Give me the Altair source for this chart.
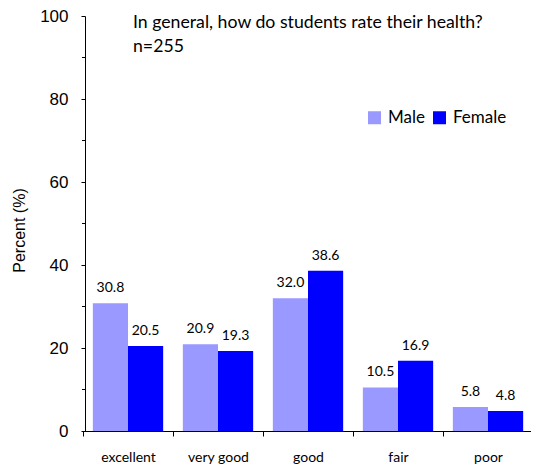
import altair as alt
import pandas as pd

categories = ["excellent", "very good", "good", "fair", "poor"]
male = [30.8, 20.9, 32.0, 10.5, 5.8]
female = [20.5, 19.3, 38.6, 16.9, 4.8]
series = ["Male", "Female"]
colors = ["#9999FF", "#0000FF"]
title_lines = ["In general, how do students rate their health?", "n=255"]
minor_ticks = [10, 30, 50, 70, 90]

rows = []
for i, c in enumerate(categories):
    rows.append({"cat": c, "sex": "Male", "pct": male[i], "lab": f"{male[i]:.1f}"})
    rows.append({"cat": c, "sex": "Female", "pct": female[i], "lab": f"{female[i]:.1f}"})
df = pd.DataFrame(rows)

FONT = "Lato"
AX_FONT = "Liberation Sans"
W, H = 446, 415

x = alt.X("cat:N", sort=categories, title=None,
          scale=alt.Scale(paddingInner=0, paddingOuter=0, range=[-2, W + 2]),
          axis=alt.Axis(tickBand="extent", labelAngle=0, labelFontSize=14,
                        labelPadding=14, tickSize=5, domainColor="#000",
                        tickColor="#000", labelColor="#000", labelFont=FONT))
xo = alt.XOffset("sex:N", sort=series,
                 scale=alt.Scale(paddingInner=0, paddingOuter=0.28))
y = alt.Y("pct:Q", title="Percent (%)",
          scale=alt.Scale(domain=[0, 100], nice=False),
          axis=alt.Axis(values=[0, 20, 40, 60, 80, 100], grid=False,
                        labelFontSize=17, labelPadding=13, tickSize=4,
                        titleFontSize=16, titleFontWeight="normal",
                        titlePadding=12, titleY=214, domainColor="#000",
                        tickColor="#000", labelColor="#000", titleColor="#000",
                        labelFont=AX_FONT, titleFont=AX_FONT))

color = alt.Color("sex:N", sort=series,
                  scale=alt.Scale(domain=series, range=colors),
                  legend=alt.Legend(title=None, orient="none", direction="horizontal",
                                    legendX=281, legendY=93, symbolType="square",
                                    symbolSize=169, symbolStrokeWidth=0,
                                    labelFontSize=17, labelFont=FONT,
                                    labelColor="#000", columnPadding=6,
                                    labelOffset=5, padding=0))

base = alt.Chart(df)
bars = base.mark_bar(opacity=1).encode(x=x, xOffset=xo, y=y, color=color)
labels = base.mark_text(dy=-8, fontSize=14, font=FONT, color="#000",
                        baseline="bottom").encode(
    x=alt.X("cat:N", sort=categories), xOffset=alt.XOffset("sex:N", sort=series),
    y="pct:Q", text="lab:N")

minor = alt.Chart(pd.DataFrame({"v": minor_ticks})).mark_rule(
    color="#000", strokeWidth=1).encode(
    y=alt.Y("v:Q"), x=alt.value(-3), x2=alt.value(0))

title = alt.Chart(pd.DataFrame({"a": [0]})).mark_text(
    text=title_lines, align="left", baseline="alphabetic", fontSize=17.7,
    font=FONT, color="#000", lineHeight=24).encode(
    x=alt.value(48), y=alt.value(12))

chart = alt.layer(bars, labels, minor, title).properties(
    width=W, height=H,
    autosize=alt.AutoSizeParams(type="none"),
    padding={"left": 77, "top": 8, "right": 0, "bottom": 40},
).configure_view(stroke=None)

chart.save("out.html", embed_options={"renderer": "svg", "actions": False})
